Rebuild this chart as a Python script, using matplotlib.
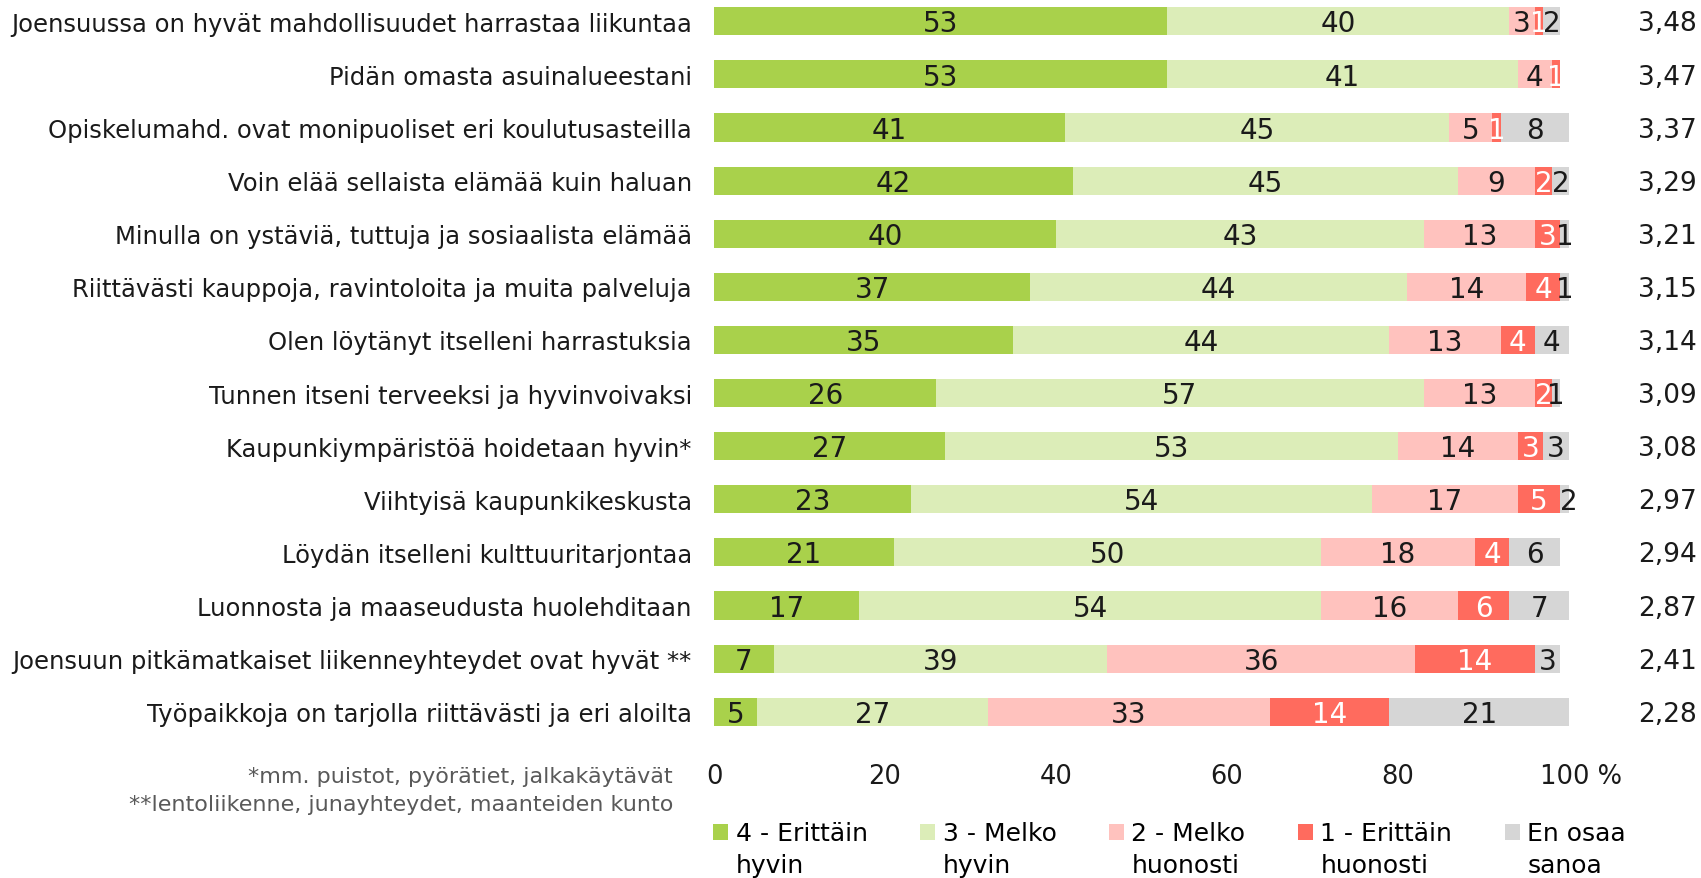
import matplotlib.pyplot as plt
import numpy as np
from matplotlib.patches import Patch, Rectangle
from matplotlib.legend_handler import HandlerPatch
from matplotlib.transforms import ScaledTranslation

plt.rcParams['font.family'] = ['DejaVu Sans']

statements = [
    'Joensuussa on hyvät mahdollisuudet harrastaa liikuntaa',
    'Pidän omasta asuinalueestani',
    'Opiskelumahd. ovat monipuoliset eri koulutusasteilla',
    'Voin elää sellaista elämää kuin haluan',
    'Minulla on ystäviä, tuttuja ja sosiaalista elämää',
    'Riittävästi kauppoja, ravintoloita ja muita palveluja',
    'Olen löytänyt itselleni harrastuksia',
    'Tunnen itseni terveeksi ja hyvinvoivaksi',
    'Kaupunkiympäristöä hoidetaan hyvin*',
    'Viihtyisä kaupunkikeskusta',
    'Löydän itselleni kulttuuritarjontaa',
    'Luonnosta ja maaseudusta huolehditaan',
    'Joensuun pitkämatkaiset liikenneyhteydet ovat hyvät **',
    'Työpaikkoja on tarjolla riittävästi ja eri aloilta',
]

very_good = [53, 53, 41, 42, 40, 37, 35, 26, 27, 23, 21, 17, 7, 5]
fairly_good = [40, 41, 45, 45, 43, 44, 44, 57, 53, 54, 50, 54, 39, 27]
fairly_bad = [3, 4, 5, 9, 13, 14, 13, 13, 14, 17, 18, 16, 36, 33]
very_bad = [1, 1, 1, 2, 3, 4, 4, 2, 3, 5, 4, 6, 14, 14]
dont_know = [2, 0, 8, 2, 1, 1, 4, 1, 3, 2, 6, 7, 3, 21]
means = ['3,48', '3,47', '3,37', '3,29', '3,21', '3,15', '3,14', '3,09',
         '3,08', '2,97', '2,94', '2,87', '2,41', '2,28']

series_labels = ['4 - Erittäin\nhyvin', '3 - Melko\nhyvin', '2 - Melko\nhuonosti',
                 '1 - Erittäin\nhuonosti', 'En osaa\nsanoa']
colors = ['#a9d14b', '#dcedb8', '#ffc2be', '#ff6b5e', '#d6d6d6']
text_colors = ['#1a1a1a', '#1a1a1a', '#1a1a1a', 'white', '#1a1a1a']

fig = plt.figure(figsize=(17.01, 8.79), dpi=100)
ax = fig.add_axes([714 / 1701, 1 - 735 / 879, 855 / 1701, 735 / 879])

y = np.arange(len(statements))
left = np.zeros(len(statements))
for vals, col, tcol in zip([very_good, fairly_good, fairly_bad, very_bad, dont_know],
                           colors, text_colors):
    vals = np.array(vals)
    ax.barh(y, vals, left=left, height=0.53, color=col)
    for yi, (l, v) in enumerate(zip(left, vals)):
        if v > 0:
            ax.text(l + v / 2, yi + 0.04, str(v), ha='center', va='center',
                    fontsize=20, color=tcol)
    left = left + vals

for yi, m in enumerate(means):
    ax.text(111.5, yi + 0.04, m, ha='center', va='center', fontsize=19, color='#1a1a1a',
            clip_on=False)

ax.set_xlim(0, 100)
ax.set_ylim(13.42, -0.42)
ax.set_yticks(y)
ax.set_yticklabels(statements, fontsize=17.5, color='#1a1a1a')
ax.set_xticks([0, 20, 40, 60, 80, 100])
ax.set_xticklabels(['0', '20', '40', '60', '80', '100 %'], fontsize=18.5, color='#1a1a1a')
ax.tick_params(axis='y', length=0, pad=16)
ax.tick_params(axis='x', length=0, pad=21)
# keep "100" over its tick, the percent sign trails to the right
last = ax.get_xticklabels()[-1]
last.set_transform(last.get_transform() + ScaledTranslation(12 / 100, 0, fig.dpi_scale_trans))
for s in ax.spines.values():
    s.set_visible(False)

fig.text(673 / 1701, 1 - 777 / 879, '*mm. puistot, pyörätiet, jalkakäytävät',
         ha='right', va='center', fontsize=16, color='#595959')
fig.text(673 / 1701, 1 - 805 / 879, '**lentoliikenne, junayhteydet, maanteiden kunto',
         ha='right', va='center', fontsize=16, color='#595959')


def top_square(legend, orig_handle, xdescent, ydescent, width, height, fontsize):
    # put the square next to the first text line
    return Rectangle((-xdescent, -ydescent + 0.7 * fontsize), width, height)


handles = [Patch(facecolor=c, edgecolor='none') for c in colors]
leg = fig.legend(handles, series_labels, ncol=5, loc='upper left',
                 bbox_to_anchor=(713 / 1701, 1 - 822 / 879), frameon=False,
                 fontsize=18, handlelength=0.6, handleheight=0.6, handletextpad=0.3,
                 columnspacing=2.1, borderpad=0, borderaxespad=0, labelspacing=0,
                 handler_map={Patch: HandlerPatch(patch_func=top_square)})
for t in leg.get_texts():
    t.set_linespacing(1.4)

fig.savefig('out.png', dpi=100)
